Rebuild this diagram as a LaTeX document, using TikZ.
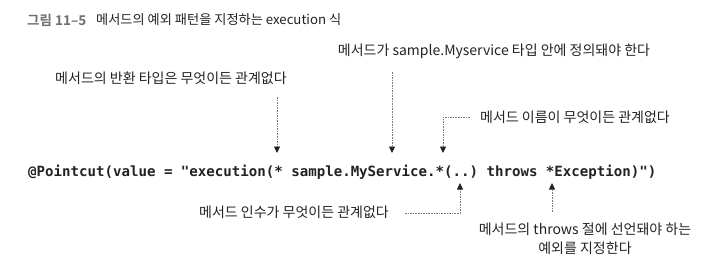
\documentclass[tikz,border=0pt]{standalone}
\usepackage{fontspec}
\usetikzlibrary{arrows.meta}
\newfontfamily\kr{Noto Sans CJK KR}[BoldFont={Noto Sans CJK KR Bold}]
\newfontfamily\codefont{DejaVu Sans Mono}
\definecolor{ink}{HTML}{222222}
\definecolor{cap}{HTML}{6E6E6E}
\definecolor{lead}{HTML}{7A7A7A}
\frenchspacing
\begin{document}
\begin{tikzpicture}[x=1pt,y=-1pt,
  lbl/.style={inner sep=0pt,text=ink,font=\kr\fontsize{14}{17}\selectfont},
  leader/.style={draw=lead,line width=0.7pt,dash pattern=on 1.6pt off 1pt},
  tip/.style={-{Triangle[length=6.5pt,width=6pt,fill=ink,color=ink]}}]
\useasboundingbox (0,0) rectangle (718,263);

% caption
\node[lbl,anchor=west,text=cap,font=\kr\bfseries\fontsize{13.5}{16}\selectfont] (num) at (27,20) {그림 11–5};
\node[lbl,anchor=west,font=\kr\fontsize{13.2}{16}\selectfont] (title) at (96,20) {메서드의 예외 패턴을 지정하는 execution 식};

% the expression
\node[inner sep=0pt,anchor=base west,text=ink,font=\codefont\bfseries\fontsize{14.1}{16}\selectfont] (code) at (28,176)
  {@Pointcut(value = "execution(* sample.MyService.*(..) throws *Exception)")};

% annotations
\node[lbl] (ret) at (171,78) {메서드의 반환 타입은 무엇이든 관계없다};
\node[lbl] (typ) at (494,51) {메서드가 sample.Myservice 타입 안에 정의돼야 한다};
\node[lbl] (nam) at (575,117) {메서드 이름이 무엇이든 관계없다};
\node[lbl] (arg) at (294,212) {메서드 인수가 무엇이든 관계없다};
\node[lbl,align=center] (exc) at (585,239) {메서드의 throws 절에 선언돼야 하는\\[2pt]예외를 지정한다};

% leader end points
\coordinate (retA) at (277,97);  \coordinate (retB) at (277,153);
\coordinate (typA) at (392,72);  \coordinate (typB) at (392,153);
\coordinate (namA) at (470,117); \coordinate (namK) at (443,117); \coordinate (namB) at (443,153);
\coordinate (argA) at (405,213); \coordinate (argK) at (460,213); \coordinate (argB) at (460,183);
\coordinate (excA) at (552,212); \coordinate (excB) at (552,183);

\draw[leader,tip] (retA) -- (retB);
\draw[leader,tip] (typA) -- (typB);
\draw[leader,tip] (namA) -- (namK) -- (namB);
\draw[leader,tip] (argA) -- (argK) -- (argB);
\draw[leader,tip] (excA) -- (excB);
\end{tikzpicture}
\end{document}
